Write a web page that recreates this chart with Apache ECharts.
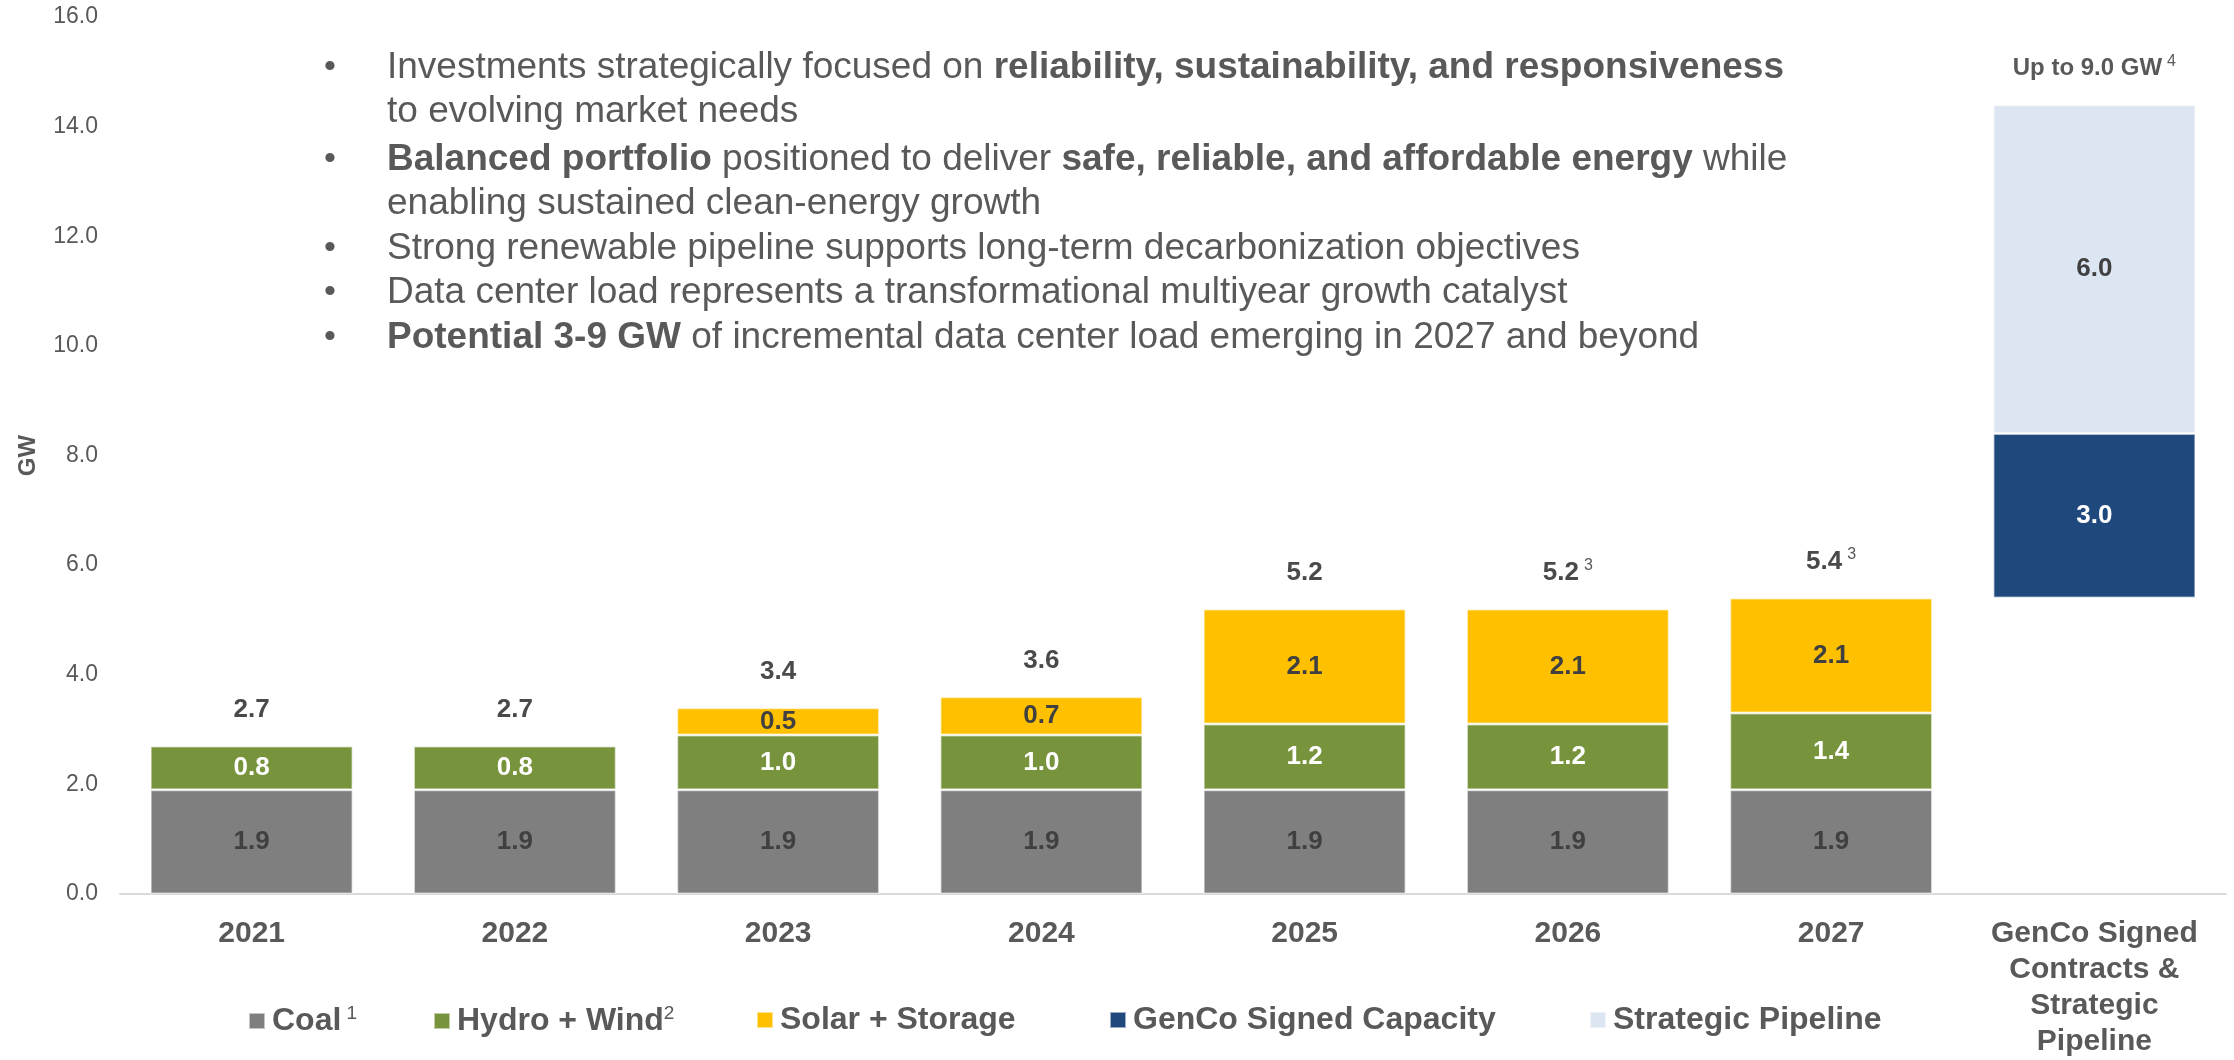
<!DOCTYPE html>
<html>
<head>
<meta charset="utf-8">
<title>Generation capacity</title>
<script src="https://cdn.jsdelivr.net/npm/echarts@6/dist/echarts.min.js"></script>
<style>
  html, body { margin: 0; padding: 0; background: #fff; }
  #chart { width: 2234px; height: 1060px; }
</style>
</head>
<body>
<div id="chart"></div>
<script>
// categories and values (GW)
const categories = ['2021', '2022', '2023', '2024', '2025', '2026', '2027', 'GenCo Signed\nContracts &\nStrategic\nPipeline'];
const coal = [1.9, 1.9, 1.9, 1.9, 1.9, 1.9, 1.9, null];
const hydroWind = [0.8, 0.8, 1.0, 1.0, 1.2, 1.2, 1.4, null];
const solarStorage = [null, null, 0.5, 0.7, 2.1, 2.1, 2.1, null];
const pipelineBase = [null, null, null, null, null, null, null, 5.4];
const gencoSigned = [null, null, null, null, null, null, null, 3.0];
const strategicPipeline = [null, null, null, null, null, null, null, 6.0];
const totalNotes = ['', '', '', '', '', '3', '3', '4'];
const yTicks = [0, 2, 4, 6, 8, 10, 12, 14, 16];

const legendNames = ['Coal', 'Hydro + Wind', 'Solar + Storage', 'GenCo Signed Capacity', 'Strategic Pipeline'];
const legendNotes = { 'Coal': ' 1', 'Hydro + Wind': '2' };

const bulletLines = [
  [true, [['n', 'Investments strategically focused on '], ['b', 'reliability, sustainability, and responsiveness']]],
  [false, [['n', 'to evolving market needs']]],
  [true, [['b', 'Balanced portfolio'], ['n', ' positioned to deliver '], ['b', 'safe, reliable, and affordable energy'], ['n', ' while']]],
  [false, [['n', 'enabling sustained clean-energy growth']]],
  [true, [['n', 'Strong renewable pipeline supports long-term decarbonization objectives']]],
  [true, [['n', 'Data center load represents a transformational multiyear growth catalyst']]],
  [true, [['b', 'Potential 3-9 GW'], ['n', ' of incremental data center load emerging in 2027 and beyond']]]
];

const FONT = "'Liberation Sans', Arial, sans-serif";
const TEXT = '#595959';
const DARK = '#404040';

const colors = {
  coal: '#7F7F7F',
  hydro: '#77933C',
  solar: '#FFC000',
  genco: '#1F497D',
  pipeline: '#DCE6F2'
};

// stack tops, used to place the total labels
const stackTops = categories.map((c, i) =>
  [coal, hydroWind, solarStorage, pipelineBase, gencoSigned, strategicPipeline]
    .reduce((s, arr) => s + (arr[i] || 0), 0));

const totalLabels = categories.map((c, i) => {
  if (i === categories.length - 1) {
    const upTo = (gencoSigned[i] || 0) + (strategicPipeline[i] || 0);
    return '{w|Up to ' + upTo.toFixed(1) + ' GW}{s|' + totalNotes[i] + '}';
  }
  return '{v|' + stackTops[i].toFixed(1) + '}' + (totalNotes[i] ? '{s|' + totalNotes[i] + '}' : '');
});

function barSeries(name, data, color, labelColor) {
  return {
    name,
    type: 'bar',
    stack: 'total',
    data,
    barWidth: '77%',
    itemStyle: { color, borderColor: 'rgba(255,255,255,0.55)', borderWidth: 1.5 },
    label: {
      show: true,
      position: 'inside',
      color: labelColor,
      fontFamily: FONT,
      fontWeight: 'bold',
      fontSize: 26,
      formatter: p => p.value == null ? '' : p.value.toFixed(1)
    },
    emphasis: { disabled: true }
  };
}

const series = [
  barSeries('Coal', coal, colors.coal, DARK),
  barSeries('Hydro + Wind', hydroWind, colors.hydro, '#fff'),
  barSeries('Solar + Storage', solarStorage, colors.solar, DARK),
  {
    name: 'base',
    type: 'bar',
    stack: 'total',
    data: pipelineBase,
    barWidth: '77%',
    itemStyle: { color: 'rgba(0,0,0,0)' },
    emphasis: { disabled: true }
  },
  barSeries('GenCo Signed Capacity', gencoSigned, colors.genco, '#fff'),
  barSeries('Strategic Pipeline', strategicPipeline, colors.pipeline, DARK),
  {
    name: 'totals',
    type: 'scatter',
    data: stackTops,
    symbolSize: 2,
    itemStyle: { color: 'rgba(0,0,0,0)' },
    label: {
      show: true,
      position: 'top',
      distance: 20,
      color: '#4a4a4a',
      opacity: 1,
      formatter: p => totalLabels[p.dataIndex],
      rich: {
        v: { fontFamily: FONT, fontWeight: 'bold', fontSize: 26, color: '#4a4a4a', lineHeight: 30 },
        w: { fontFamily: FONT, fontWeight: 'bold', fontSize: 24, color: TEXT, lineHeight: 30 },
        s: { fontFamily: FONT, fontSize: 16, color: TEXT, verticalAlign: 'top', lineHeight: 16, padding: [0, 0, 0, 5] }
      }
    },
    emphasis: { disabled: true },
    z: 5
  }
];

// one legend per item so every entry sits where it does in the slide
const legendLeft = [248, 433, 756, 1109, 1589];
const legends = legendNames.map((name, i) => ({
  data: [name],
  left: legendLeft[i],
  top: 1004,
  padding: 0,
  icon: 'rect',
  itemWidth: 16,
  itemHeight: 16,
  itemGap: 0,
  selectedMode: false,
  formatter: n => '{n|' + n + '}' + (legendNotes[n] ? '{s|' + legendNotes[n] + '}' : ''),
  textStyle: {
    padding: [0, 0, 0, 2],
    rich: {
      n: { fontFamily: FONT, fontWeight: 'bold', fontSize: 32, color: TEXT, lineHeight: 34 },
      s: { fontFamily: FONT, fontSize: 19, color: TEXT, verticalAlign: 'top', lineHeight: 19 }
    }
  }
}));

// bullet text block at the top
const lineY = [68, 112, 160, 204, 249, 293, 338];
const graphic = [];
bulletLines.forEach(([hasBullet, segs], i) => {
  if (hasBullet) {
    graphic.push({
      type: 'text', x: 330, y: lineY[i],
      style: { text: '•', font: '34px ' + FONT, fill: TEXT, align: 'center', verticalAlign: 'middle' }
    });
  }
  graphic.push({
    type: 'text', x: 387, y: lineY[i],
    style: {
      text: segs.map(([k, t]) => '{' + k + '|' + t + '}').join(''),
      verticalAlign: 'middle',
      rich: {
        n: { fontFamily: FONT, fontSize: 37, fill: TEXT, color: TEXT },
        b: { fontFamily: FONT, fontSize: 37, fontWeight: 'bold', fill: TEXT, color: TEXT }
      }
    }
  });
});

const chart = echarts.init(document.getElementById('chart'));
chart.setOption({
  animation: false,
  backgroundColor: '#fff',
  grid: { left: 120, right: 8, top: 17, bottom: 166 },
  legend: legends,
  xAxis: {
    type: 'category',
    data: categories,
    axisLine: { lineStyle: { color: '#D9D9D9', width: 2 } },
    axisTick: { show: false },
    axisLabel: {
      fontFamily: FONT,
      fontWeight: 'bold',
      fontSize: 30,
      color: TEXT,
      lineHeight: 36,
      margin: 22,
      interval: 0
    }
  },
  yAxis: {
    type: 'value',
    min: yTicks[0],
    max: yTicks[yTicks.length - 1],
    interval: 2,
    name: 'GW',
    nameLocation: 'middle',
    nameGap: 80,
    nameTextStyle: { fontFamily: FONT, fontWeight: 'bold', fontSize: 24, color: TEXT },
    axisLine: { show: false },
    axisTick: { show: false },
    splitLine: { show: false },
    axisLabel: {
      fontFamily: FONT,
      fontSize: 23,
      color: TEXT,
      margin: 22,
      padding: [8, 0, 0, 0],
      formatter: v => v.toFixed(1)
    }
  },
  series,
  graphic
});
</script>
</body>
</html>
